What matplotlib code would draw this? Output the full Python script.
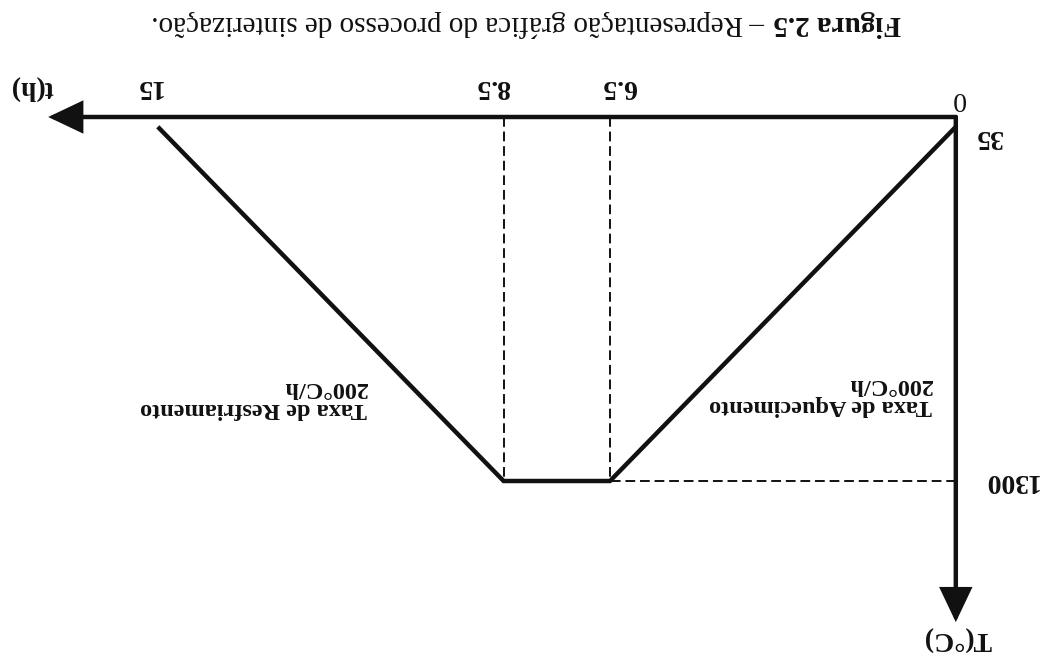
import matplotlib
matplotlib.use("Agg")
import matplotlib.pyplot as plt

# Sintering cycle: heating, dwell, cooling
times = [0, 6.5, 8.5, 15]          # t (h)
temps = [35, 1300, 1300, 35]       # T (°C)
time_ticks = ["6.5", "8.5", "15"]
time_tick_vals = [6.5, 8.5, 15]
temp_ticks = ["35", "1300"]
temp_tick_vals = [35, 1300]
title_bold = "Figura 2.5"
title_rest = "– Representação gráfica do processo de sinterização."
heat_label = "Taxa de Aquecimento\n200°C/h"
cool_label = "Taxa de Resfriamento\n200°C/h"

W, H, DPI = 1045, 658, 100
fig = plt.figure(figsize=(W / DPI, H / DPI), dpi=DPI)
fig.patch.set_facecolor("white")
ax = fig.add_axes([0, 0, 1, 1])
ax.set_axis_off()

# The diagram is printed upside down: time grows to the left, temperature downward.
x0_px, sx = 955.8, 53.2      # pixel of t=0, pixels per hour
y0_px, sy = 117.0, 0.2800    # pixel of T=0 (from top), pixels per °C
ax.set_xlim(x0_px / sx, (x0_px - W) / sx)
ax.set_ylim((H - y0_px) / sy, -y0_px / sy)

ink = "#111111"
serif = "Liberation Serif"

def fpos(x, y):
    return x / W, 1 - y / H

# Axes with arrowheads
t_axis_end, T_axis_end = 17.06, 1804
arrow = dict(arrowstyle="-|>,head_length=2.0,head_width=0.95", mutation_scale=10,
             lw=3.2, color=ink, shrinkA=0, shrinkB=0, joinstyle="miter")
ax.annotate("", xy=(t_axis_end, 0), xytext=(0, 0), arrowprops=arrow)
ax.annotate("", xy=(0, T_axis_end), xytext=(0, 0), arrowprops=arrow)

# Guide lines
dash = dict(color=ink, lw=1.4, dashes=(5, 2.5))
for tv in time_tick_vals[:2]:
    ax.plot([tv, tv], [0, temps[1]], **dash)
ax.plot([0, times[1]], [temps[1], temps[1]], **dash)

# Sintering profile
ax.plot(times, temps, color=ink, lw=3.2, solid_joinstyle="miter", solid_capstyle="butt")

# Tick labels and axis names
lab = dict(family=serif, weight="bold", fontsize=20, color=ink, rotation=180,
           ha="center", va="center")
tick_shift = {"6.5": 9, "8.5": -11, "15": -10}
for s, v in zip(time_ticks, time_tick_vals):
    x = x0_px - v * sx
    fig.text(*fpos(x + tick_shift[s], 87), s, **lab)
fig.text(*fpos(32, 87), "t(h)", **lab)
fig.text(*fpos(958, 99), "0", **dict(lab, weight="normal"))
for s, v in zip(temp_ticks, temp_tick_vals):
    y = y0_px + v * sy
    fig.text(*fpos(1010 if s == "1300" else 988, y + (10 if s == "35" else -1)), s, **lab)
fig.text(*fpos(957, 638), "T(°C)", **lab)

# Rate annotations
note = dict(family=serif, weight="bold", fontsize=17.5, color=ink, rotation=180,
            ha="right", va="center", multialignment="left", linespacing=1.0)
fig.text(*fpos(932, 395), heat_label, **note)
fig.text(*fpos(367, 398), cool_label, **note)

# Caption
cap = dict(family=serif, fontsize=21, color=ink, rotation=180,
           rotation_mode="anchor", ha="left", va="center")
tb = fig.text(*fpos(901, 23), title_bold, weight="bold", **cap)
fig.canvas.draw()
bb = tb.get_window_extent()
fig.text(*fpos(bb.x0 - 8, 23), title_rest, **cap)

fig.savefig("out.png", dpi=DPI, facecolor="white")
